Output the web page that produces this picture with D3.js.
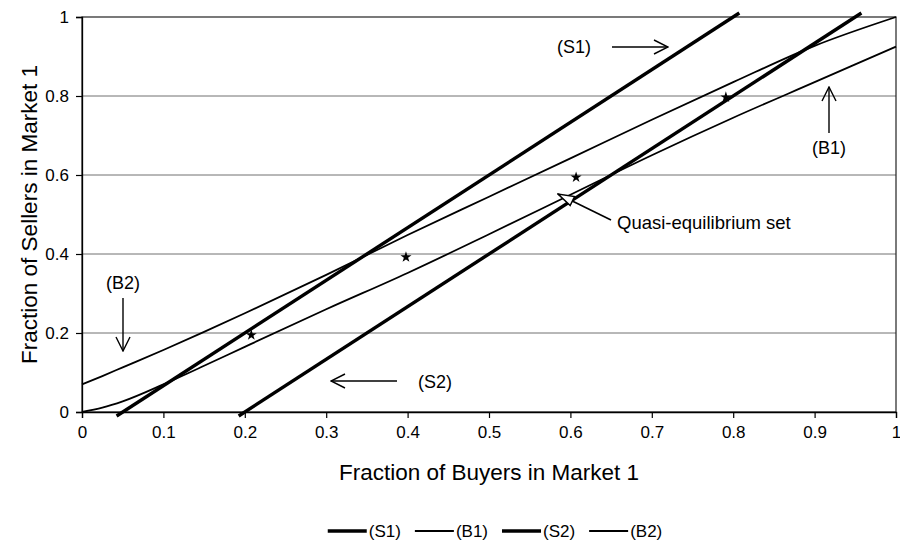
<!DOCTYPE html>
<html>
<head>
<meta charset="utf-8">
<script src="https://cdn.jsdelivr.net/npm/d3@7"></script>
<style>
  body { margin: 0; background: #fff; }
  text { font-family: "Liberation Sans", Arial, sans-serif; fill: #000; }
</style>
</head>
<body>
<div id="chart"></div>
<script>
const width = 900;
const height = 540;
const margin = { top: 17, right: 4, bottom: 128, left: 82 };

// straight supply-side lines (S1, S2), end points run a little past the frame
const s1X = [0.0425, 0.8075];
const s1Y = [-0.01, 1.01];
const s2X = [0.1925, 0.9575];
const s2Y = [-0.01, 1.01];

// buyer curves (B1, B2)
const bX  = [0, 0.025, 0.05, 0.1, 0.15, 0.2, 0.3, 0.4, 0.5, 0.6, 0.7, 0.8, 0.9, 1];
const b1Y = [0, 0.011, 0.027, 0.07, 0.117, 0.165, 0.26, 0.352, 0.45, 0.55, 0.65, 0.745, 0.835, 0.925];
const b2Y = [0.07, 0.091, 0.113, 0.157, 0.203, 0.25, 0.347, 0.448, 0.545, 0.642, 0.74, 0.835, 0.927, 1];

// quasi-equilibrium points
const starX = [0.208, 0.398, 0.607, 0.791];
const starY = [0.195, 0.392, 0.594, 0.797];

const xTicks = [0, 0.1, 0.2, 0.3, 0.4, 0.5, 0.6, 0.7, 0.8, 0.9, 1];
const yTicks = [0, 0.2, 0.4, 0.6, 0.8, 1];
const seriesNames = ["(S1)", "(B1)", "(S2)", "(B2)"];

const svg = d3.select("#chart").append("svg")
    .attr("width", width)
    .attr("height", height);

const x = d3.scaleLinear().domain([0, 1]).range([margin.left, width - margin.right]);
const y = d3.scaleLinear().domain([0, 1]).range([height - margin.bottom, margin.top]);

const defs = svg.append("defs");
defs.append("marker")
    .attr("id", "vhead")
    .attr("viewBox", "0 0 16 16")
    .attr("refX", 15).attr("refY", 8)
    .attr("markerWidth", 16).attr("markerHeight", 16)
    .attr("markerUnits", "userSpaceOnUse")
    .attr("orient", "auto")
    .append("path")
    .attr("d", "M1,1 L15,8 L1,15")
    .attr("fill", "none")
    .attr("stroke", "#000")
    .attr("stroke-width", 1.4);

defs.append("marker")
    .attr("id", "trihead")
    .attr("viewBox", "0 0 18 14")
    .attr("refX", 17).attr("refY", 7)
    .attr("markerWidth", 18).attr("markerHeight", 14)
    .attr("markerUnits", "userSpaceOnUse")
    .attr("orient", "auto")
    .append("path")
    .attr("d", "M1,2 L17,7 L1,12 Z")
    .attr("fill", "#fff")
    .attr("stroke", "#000")
    .attr("stroke-width", 1.5);

// gridlines
svg.append("g")
    .selectAll("line")
    .data(yTicks.slice(1, -1))
    .enter().append("line")
    .attr("x1", x(0)).attr("x2", x(1))
    .attr("y1", d => y(d)).attr("y2", d => y(d))
    .attr("stroke", "#707070")
    .attr("stroke-width", 1);

// frame
svg.append("rect")
    .attr("x", x(0)).attr("y", y(1))
    .attr("width", x(1) - x(0))
    .attr("height", y(0) - y(1))
    .attr("fill", "none")
    .attr("stroke", "#222")
    .attr("stroke-width", 1.2);

const xAxis = svg.append("g")
    .attr("transform", `translate(0,${y(0)})`)
    .call(d3.axisBottom(x).tickValues(xTicks).tickSize(6).tickFormat(d3.format("")));

const yAxis = svg.append("g")
    .attr("transform", `translate(${x(0)},0)`)
    .call(d3.axisLeft(y).tickValues(yTicks).tickSize(6).tickFormat(d3.format("")));

[xAxis, yAxis].forEach(a => {
    a.select(".domain").attr("stroke", "#000").attr("stroke-width", 1.3);
    a.selectAll(".tick line").attr("stroke", "#000").attr("stroke-width", 1.2);
    a.selectAll(".tick text")
        .style("font-family", "Liberation Sans, Arial, sans-serif")
        .style("font-size", "17px")
        .attr("fill", "#000");
});
xAxis.selectAll(".tick text").attr("y", 14);
yAxis.selectAll(".tick text").attr("x", -13);

svg.append("text")
    .attr("x", 489).attr("y", 480)
    .attr("text-anchor", "middle")
    .style("font-size", "22.5px")
    .text("Fraction of Buyers in Market 1");

svg.append("text")
    .attr("transform", `translate(37,${(y(0) + y(1)) / 2}) rotate(-90)`)
    .attr("text-anchor", "middle")
    .style("font-size", "22.5px")
    .text("Fraction of Sellers in Market 1");

const line = d3.line().x(d => x(d[0])).y(d => y(d[1]));
const curve = d3.line().x(d => x(d[0])).y(d => y(d[1])).curve(d3.curveMonotoneX);

const plot = svg.append("g");
plot.append("path")
    .datum(bX.map((v, i) => [v, b1Y[i]]))
    .attr("d", curve)
    .attr("fill", "none").attr("stroke", "#000").attr("stroke-width", 1.8);
plot.append("path")
    .datum(bX.map((v, i) => [v, b2Y[i]]))
    .attr("d", curve)
    .attr("fill", "none").attr("stroke", "#000").attr("stroke-width", 1.8);
plot.append("path")
    .datum(s1X.map((v, i) => [v, s1Y[i]]))
    .attr("d", line)
    .attr("fill", "none").attr("stroke", "#000").attr("stroke-width", 3.4);
plot.append("path")
    .datum(s2X.map((v, i) => [v, s2Y[i]]))
    .attr("d", line)
    .attr("fill", "none").attr("stroke", "#000").attr("stroke-width", 3.4);

plot.selectAll(".star")
    .data(starX.map((v, i) => [v, starY[i]]))
    .enter().append("path")
    .attr("class", "star")
    .attr("transform", d => `translate(${x(d[0])},${y(d[1])})`)
    .attr("d", d3.symbol().type(d3.symbolStar).size(38))
    .attr("fill", "#000");

// annotations
const notes = [
    { t: "(S1)", tx: 557, ty: 53, ax1: 612, ay1: 47, ax2: 668, ay2: 47 },
    { t: "(B1)", tx: 812, ty: 154, ax1: 829, ay1: 133, ax2: 829, ay2: 87 },
    { t: "(B2)", tx: 106, ty: 289, ax1: 123, ay1: 298, ax2: 123, ay2: 351 },
    { t: "(S2)", tx: 418, ty: 388, ax1: 397, ay1: 381, ax2: 331, ay2: 381 }
];
const ann = svg.append("g");
notes.forEach(n => {
    ann.append("text")
        .attr("x", n.tx).attr("y", n.ty)
        .style("font-size", "18px")
        .text(n.t);
    ann.append("line")
        .attr("x1", n.ax1).attr("y1", n.ay1)
        .attr("x2", n.ax2).attr("y2", n.ay2)
        .attr("stroke", "#000").attr("stroke-width", 1.4)
        .attr("marker-end", "url(#vhead)");
});

ann.append("line")
    .attr("x1", 611).attr("y1", 220)
    .attr("x2", 558).attr("y2", 194)
    .attr("stroke", "#000").attr("stroke-width", 1.6)
    .attr("marker-end", "url(#trihead)");
ann.append("text")
    .attr("x", 617).attr("y", 229)
    .style("font-size", "18.5px")
    .text("Quasi-equilibrium set");

// legend
const legend = svg.append("g");
let lx = 0;
seriesNames.forEach((name, i) => {
    const g = legend.append("g").attr("transform", `translate(${lx},0)`);
    g.append("line")
        .attr("x1", 0).attr("x2", 39)
        .attr("y1", -6).attr("y2", -6)
        .attr("stroke", "#000")
        .attr("stroke-width", i % 2 === 0 ? 3.4 : 1.8);
    const t = g.append("text")
        .attr("x", 41).attr("y", 0)
        .style("font-size", "17px")
        .text(name);
    lx += 41 + t.node().getComputedTextLength() + 14;
});
lx -= 14;
legend.attr("transform", `translate(${495 - lx / 2},537)`);
</script>
</body>
</html>
